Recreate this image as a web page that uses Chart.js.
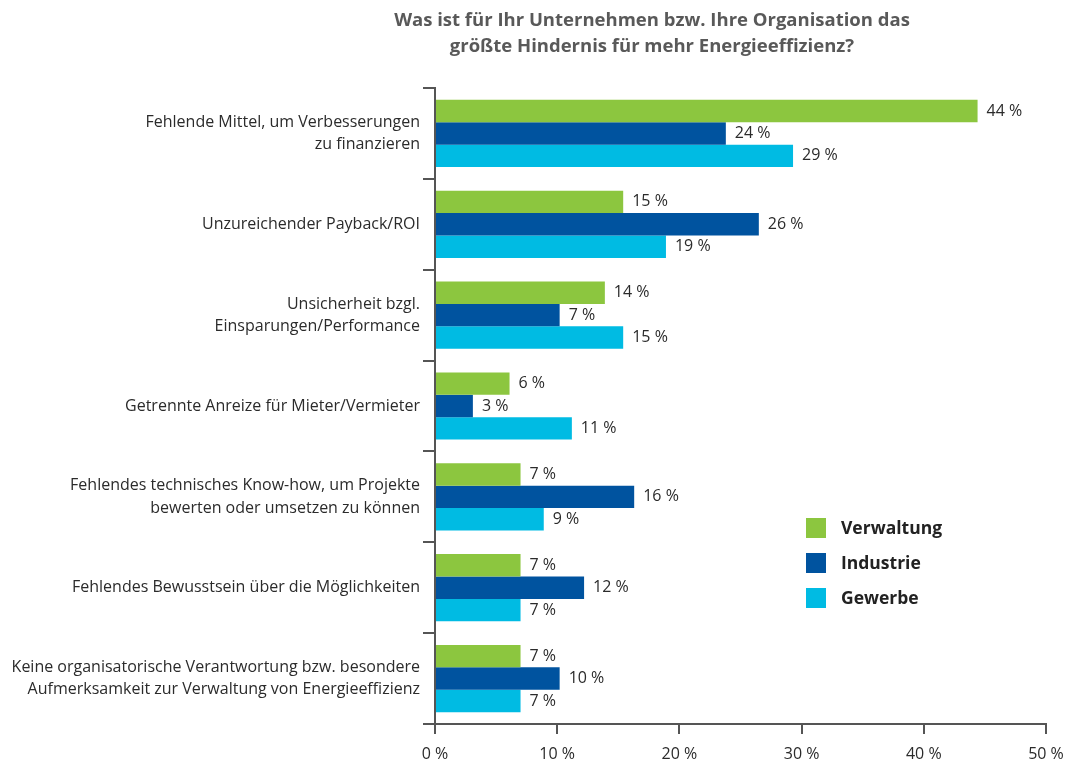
<!DOCTYPE html>
<html>
<head>
<meta charset="utf-8">
<script src="https://cdn.jsdelivr.net/npm/chart.js@4"></script>
<style>
  html, body { margin: 0; padding: 0; background: #fff; }
  #wrap { width: 1068px; height: 759px; position: relative; }
</style>
</head>
<body>
<div id="wrap"><canvas id="hindernisCanvas"></canvas></div>
<script>
const categories = [
    ["Fehlende Mittel, um Verbesserungen", "zu finanzieren"],
    "Unzureichender Payback/ROI",
    ["Unsicherheit bzgl.", "Einsparungen/Performance"],
    "Getrennte Anreize für Mieter/Vermieter",
    ["Fehlendes technisches Know-how, um Projekte", "bewerten oder umsetzen zu können"],
    "Fehlendes Bewusstsein über die Möglichkeiten",
    ["Keine organisatorische Verantwortung bzw. besondere", "Aufmerksamkeit zur Verwaltung von Energieeffizienz"]
];

// bar lengths
const verwaltung = [44.4, 15.4, 13.9, 6.1, 7.0, 7.0, 7.0];
const industrie  = [23.8, 26.5, 10.2, 3.1, 16.3, 12.2, 10.2];
const gewerbe    = [29.3, 18.9, 15.4, 11.2, 8.9, 7.0, 7.0];

// percentages printed next to the bars
const verwaltungText = [44, 15, 14, 6, 7, 7, 7];
const industrieText  = [24, 26, 7, 3, 16, 12, 10];
const gewerbeText    = [29, 19, 15, 11, 9, 7, 7];

const seriesNames = ["Verwaltung", "Industrie", "Gewerbe"];
const xTicks = [0, 10, 20, 30, 40, 50];

const titleLines = [
    "Was ist für Ihr Unternehmen bzw. Ihre Organisation das",
    "größte Hindernis für mehr Energieeffizienz?"
];

(() => {
    const FONT = "'Open Sans', 'Noto Sans', sans-serif";
    const ctx = document.getElementById('hindernisCanvas').getContext('2d');
    const printed = [verwaltungText, industrieText, gewerbeText];

    // title, value labels and legend are drawn here
    const extras = {
        id: 'extras',
        afterDatasetsDraw(chart) {
            const c = chart.ctx;
            c.save();

            // value labels
            c.font = '16px ' + FONT;
            c.fillStyle = '#2b2b2b';
            c.textAlign = 'left';
            c.textBaseline = 'middle';
            chart.data.datasets.forEach((ds, i) => {
                chart.getDatasetMeta(i).data.forEach((bar, j) => {
                    c.fillText(printed[i][j] + ' %', bar.x + 9, bar.y);
                });
            });

            // title
            c.font = 'bold 18.5px ' + FONT;
            c.fillStyle = '#595959';
            c.textAlign = 'center';
            titleLines.forEach((line, k) => c.fillText(line, 652, 21 + k * 26));

            // legend
            c.font = 'bold 17.5px ' + FONT;
            c.textAlign = 'left';
            chart.data.datasets.forEach((ds, i) => {
                const y = 528 + i * 35;
                c.fillStyle = ds.backgroundColor;
                c.fillRect(806, y - 10, 20, 20);
                c.fillStyle = '#222';
                c.fillText(ds.label, 841, y + 1);
            });

            c.restore();
        }
    };

    const data = {
        labels: categories,
        datasets: [
            { label: seriesNames[0], data: verwaltung, backgroundColor: '#8cc63f' },
            { label: seriesNames[1], data: industrie,  backgroundColor: '#00539f' },
            { label: seriesNames[2], data: gewerbe,    backgroundColor: '#00bbe3' }
        ]
    };

    new Chart(ctx, {
        type: 'bar',
        data: data,
        plugins: [extras],
        options: {
            indexAxis: 'y',
            responsive: true,
            maintainAspectRatio: false,
            animation: false,
            datasets: {
                bar: { categoryPercentage: 0.74, barPercentage: 1.0 }
            },
            layout: { padding: { top: 88, right: 22, left: 0, bottom: 0 } },
            plugins: {
                legend: { display: false },
                tooltip: { enabled: false }
            },
            scales: {
                x: {
                    min: 0,
                    max: 50,
                    afterBuildTicks: (scale) => { scale.ticks = xTicks.map(v => ({ value: v })); },
                    afterFit: (scale) => {
                        scale.height = 35;
                        scale.paddingRight = 0;
                        scale.paddingLeft = 0;
                    },
                    grid: { drawOnChartArea: false, tickLength: 10, color: '#555', lineWidth: 2 },
                    border: { color: '#555', width: 2 },
                    ticks: {
                        padding: 11,
                        color: '#2b2b2b',
                        font: { family: FONT, size: 16 },
                        maxRotation: 0,
                        callback: (v) => v + ' %'
                    }
                },
                y: {
                    afterFit: (scale) => { scale.width = 435; },
                    grid: { drawOnChartArea: false, tickLength: 12, color: '#555', lineWidth: 2, offset: true },
                    border: { color: '#555', width: 2 },
                    ticks: {
                        padding: 3,
                        color: '#2b2b2b',
                        font: { family: FONT, size: 16, lineHeight: 1.4 }
                    }
                }
            }
        }
    });
})();
</script>
</body>
</html>
